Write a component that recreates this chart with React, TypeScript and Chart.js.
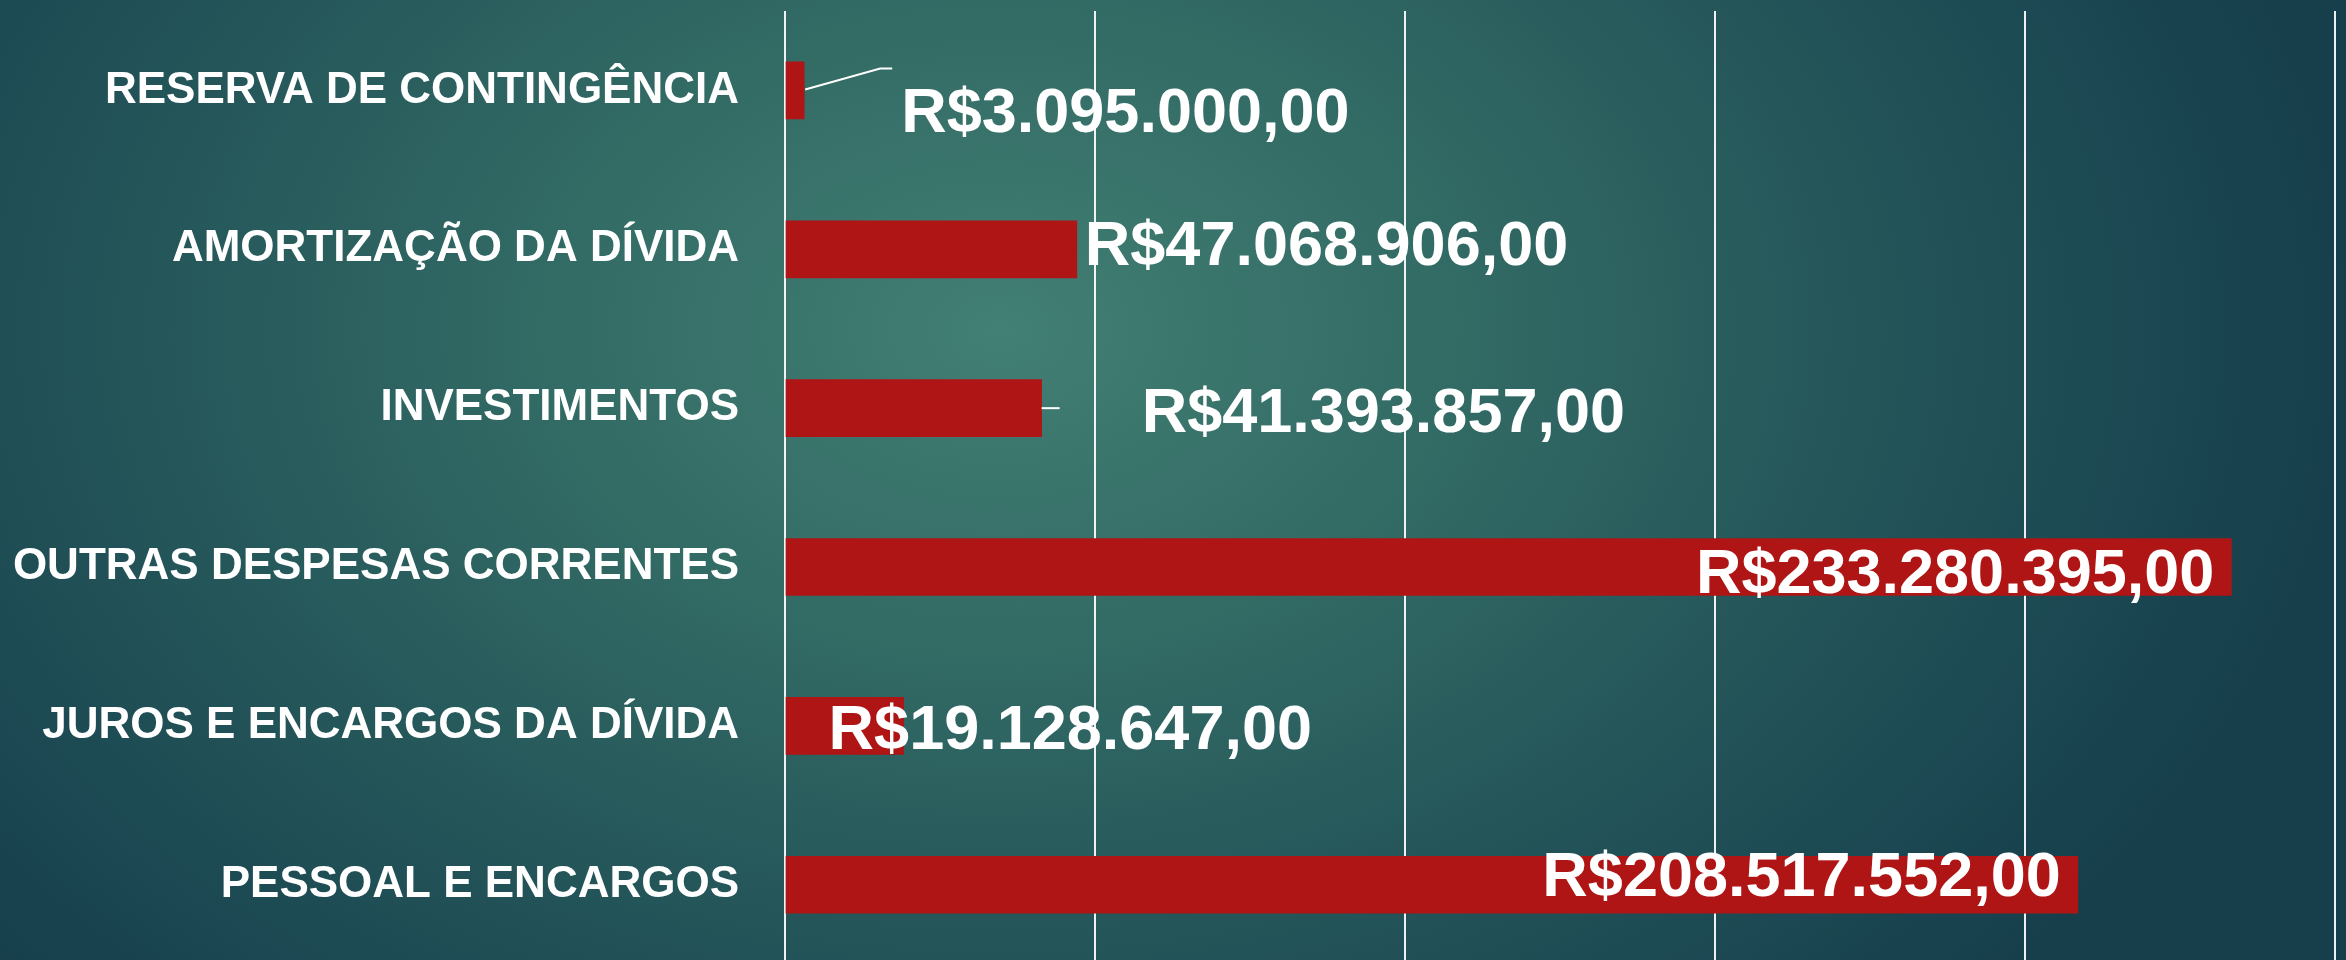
import React, { useEffect, useRef } from "react";
import { Chart, registerables } from "chart.js";

Chart.register(...registerables);

const categories = [
  "RESERVA DE CONTINGÊNCIA",
  "AMORTIZAÇÃO DA DÍVIDA",
  "INVESTIMENTOS",
  "OUTRAS DESPESAS CORRENTES",
  "JUROS E ENCARGOS DA DÍVIDA",
  "PESSOAL E ENCARGOS",
];

const values = [3095000, 47068906, 41393857, 233280395, 19128647, 208517552];

const xMin = 0;
const xMax = 250000000;
const xStep = 50000000;

// label placement relative to bar end / bar centre (style, not data)
const labelPlacement = [
  { align: "left", dx: 97, dy: 19, leader: "elbow" },
  { align: "left", dx: 8, dy: -7, leader: "" },
  { align: "left", dx: 100, dy: 1, leader: "flat" },
  { align: "right", dx: -17, dy: 3, leader: "" },
  { align: "left", dx: -75, dy: 1, leader: "" },
  { align: "right", dx: -17, dy: -11, leader: "" },
];

function formatBRL(v: number): string {
  const intPart = Math.floor(v).toString();
  let out = "";
  for (let i = 0; i < intPart.length; i++) {
    const fromEnd = intPart.length - i;
    out += intPart[i];
    if (fromEnd > 1 && (fromEnd - 1) % 3 === 0) out += ".";
  }
  const cents = Math.round((v - Math.floor(v)) * 100)
    .toString()
    .padStart(2, "0");
  return "R$" + out + "," + cents;
}

const VALUE_FONT_SIZE = 63;

const valueLabelPlugin = {
  id: "valueLabels",
  afterDatasetsDraw(chart: any) {
    const ctx = chart.ctx;
    const meta = chart.getDatasetMeta(0);
    ctx.save();
    ctx.font = `bold ${VALUE_FONT_SIZE}px "Liberation Sans", Arial, sans-serif`;
    ctx.fillStyle = "#ffffff";
    ctx.strokeStyle = "#ffffff";
    ctx.lineWidth = 2;
    const capHalf = (VALUE_FONT_SIZE * 0.716) / 2;
    meta.data.forEach((bar: any, i: number) => {
      const p = labelPlacement[i];
      const x = bar.x;
      const y = bar.y;
      if (p.leader === "elbow") {
        ctx.beginPath();
        ctx.moveTo(x + 1, y - 1);
        ctx.lineTo(x + 76, y - 22);
        ctx.lineTo(x + 88, y - 22);
        ctx.stroke();
      } else if (p.leader === "flat") {
        ctx.beginPath();
        ctx.moveTo(x, y);
        ctx.lineTo(x + 18, y);
        ctx.stroke();
      }
      ctx.textAlign = p.align;
      ctx.textBaseline = "alphabetic";
      ctx.fillText(formatBRL(values[i]), x + p.dx, y + p.dy + capHalf);
    });
    ctx.restore();
  },
};

export default function App() {
  const canvasRef = useRef<HTMLCanvasElement | null>(null);

  useEffect(() => {
    if (!canvasRef.current) return;
    const chart = new Chart(canvasRef.current, {
      type: "bar",
      data: {
        labels: categories,
        datasets: [
          {
            data: values,
            backgroundColor: "#AF1515",
            borderWidth: 0,
            barThickness: 57,
          },
        ],
      },
      options: {
        indexAxis: "y",
        responsive: false,
        animation: false,
        devicePixelRatio: 1,
        layout: { padding: { top: 11, right: 11, left: 0, bottom: 0 } },
        plugins: {
          legend: { display: false },
          tooltip: { enabled: false },
        },
        scales: {
          x: {
            min: xMin,
            max: xMax,
            ticks: { display: false, stepSize: xStep, padding: 0 },
            grid: {
              display: true,
              color: "rgba(255,255,255,0.92)",
              lineWidth: 2,
              drawTicks: false,
            },
            border: { display: false },
          },
          y: {
            ticks: {
              color: "#ffffff",
              padding: 0,
              font: {
                family: '"Liberation Sans", Arial, sans-serif',
                size: 44,
                weight: "bold",
                lineHeight: 0.4,
              },
            },
            grid: { display: false, drawTicks: true, tickLength: 46 },
            border: { display: false },
            afterFit(scale: any) {
              scale.width = 785;
            },
          },
        },
      },
      plugins: [valueLabelPlugin],
    } as any);
    return () => chart.destroy();
  }, []);

  return (
    <div
      style={{
        position: "fixed",
        left: 0,
        top: 0,
        width: 2346,
        height: 960,
        overflow: "hidden",
        background:
          "radial-gradient(ellipse 1350px 950px at 1000px 330px, #427f74 0%, #346d66 30%, #25575a 62%, #1b4852 85%, #163f4b 100%)",
      }}
    >
      <canvas
        ref={canvasRef}
        width={2346}
        height={973}
        style={{ display: "block", width: 2346, height: 973 }}
      />
    </div>
  );
}
